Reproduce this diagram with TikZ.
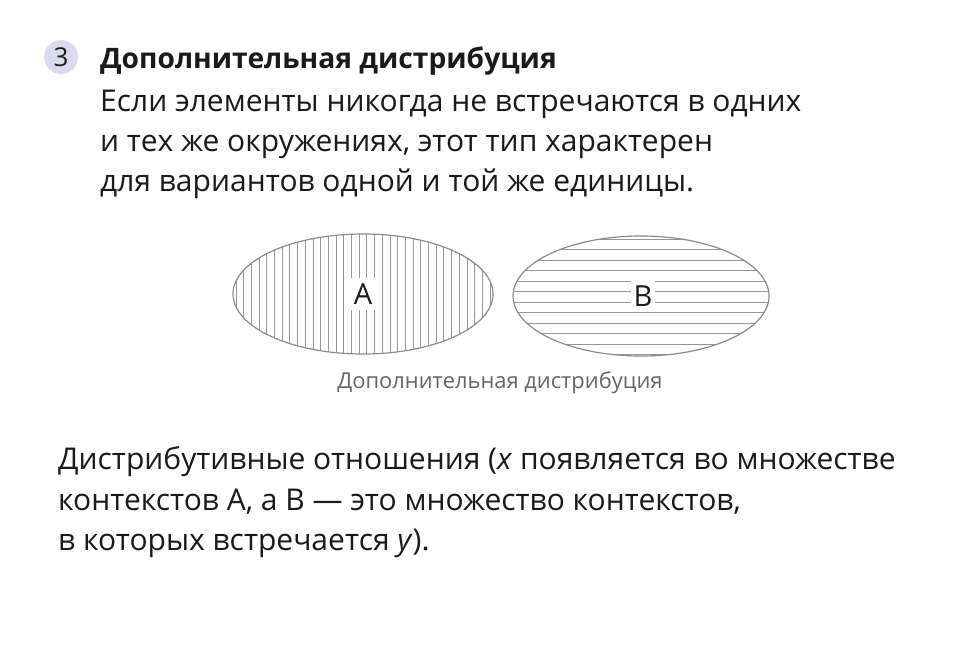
\documentclass[tikz,border=0pt]{standalone}
\usepackage{fontspec}
\setmainfont{Open Sans}
\usepackage{tikz}
\usetikzlibrary{positioning,shapes.geometric}
\definecolor{Ink}{HTML}{1A1A1A}
\definecolor{Muted}{HTML}{666666}
\definecolor{Hatch}{HTML}{959595}
\definecolor{Rim}{HTML}{8C8C8C}
\definecolor{Lilac}{HTML}{DCDAEE}
\tikzset{
  badge/.style={circle,fill=Lilac,minimum size=34pt,inner sep=0pt,text=Ink,font=\fontsize{26}{30}\selectfont},
  head/.style={anchor=base west,inner sep=0pt,text=Ink,font=\bfseries\fontsize{28.2}{32}\selectfont},
  body/.style={anchor=base west,inner sep=0pt,text=Ink,font=\fontsize{30}{34}\selectfont},
  note/.style={anchor=base,inner sep=0pt,text=Muted,font=\fontsize{21.9}{24}\selectfont},
  rim/.style={draw=Rim,line width=1.2pt},
  hatch/.style={draw=Hatch,line width=0.9pt},
  tag/.style={fill=white,inner xsep=4pt,inner ysep=6pt,text=Ink,font=\fontsize{29}{30}\selectfont}
}
\begin{document}
\begin{tikzpicture}[x=1pt,y=-1pt]
\useasboundingbox[fill=white] (0,0) rectangle (957,667);
% heading
\node[badge] (num) at (61,57) {3};
\node[head] (title) at (100,68) {Дополнительная дистрибуция};
\node[body] (l1) at (100,111) {Если элементы никогда не встречаются в одних};
\node[body] (l2) at (100,151) {и тех же окружениях, этот тип характерен};
\node[body] (l3) at (100,191) {для вариантов одной и той же единицы.};
% set A, vertical hatching
\begin{scope}
  \clip (363,294) ellipse [x radius=130, y radius=60];
  \foreach \i in {0,...,34} \draw[hatch] (236+7.7*\i,230) -- (236+7.7*\i,360);
\end{scope}
\draw[rim] (363,294) ellipse [x radius=130, y radius=60];
\node[tag] (setA) at (363,294) {A};
% set B, horizontal hatching
\begin{scope}
  \clip (641,296) ellipse [x radius=128, y radius=60];
  \foreach \j in {0,...,12} \draw[hatch] (510,239+10.5*\j) -- (772,239+10.5*\j);
\end{scope}
\draw[rim] (641,296) ellipse [x radius=128, y radius=60];
\node[tag,inner xsep=3pt] (setB) at (643,296) {B};
\node[note] (cap) at (500,388) {Дополнительная дистрибуция};
% explanation
\node[body] (p1) at (58,469) {Дистрибутивные отношения (\textit{x} появляется во множестве};
\node[body] (p2) at (58,510) {контекстов A, а B — это множество контекстов,};
\node[body] (p3) at (58,550) {в которых встречается \textit{y}).};
\end{tikzpicture}
\end{document}
